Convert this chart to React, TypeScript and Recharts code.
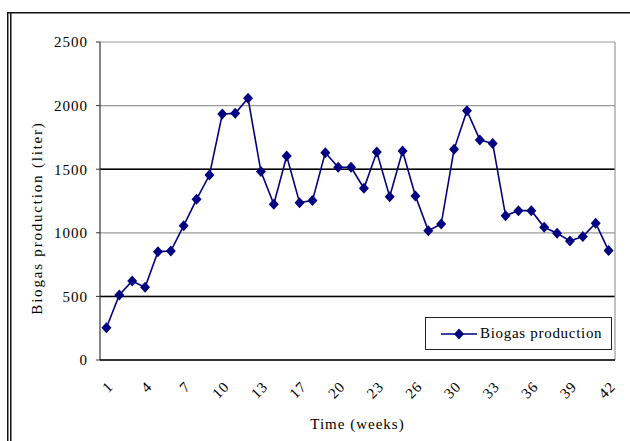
import {
  LineChart,
  Line,
  XAxis,
  YAxis,
  CartesianGrid,
  ReferenceLine,
  Legend,
  Label,
} from 'recharts';

// week number of each sample (two weeks missing in the source)
const weeks = [
  1, 2, 3, 4, 5, 6, 7, 8, 9, 10, 11, 12, 13, 14, 15,
  17, 18, 19, 20, 21, 22, 23, 24, 25, 26, 27, 28,
  30, 31, 32, 33, 34, 35, 36, 37, 38, 39, 40, 41, 42,
];

// biogas production (liter)
const production = [
  254, 511, 621, 571, 852, 857, 1056, 1263, 1454, 1934, 1939, 2057, 1481, 1224, 1604,
  1237, 1253, 1630, 1515, 1515, 1350, 1635, 1284, 1643, 1289, 1017, 1069,
  1656, 1960, 1730, 1703, 1135, 1174, 1174, 1043, 996, 936, 970, 1075, 860,
];

const yTicks = [0, 500, 1000, 1500, 2000, 2500];
const labelIdx = [1, 4, 7, 10, 13, 16, 19, 22, 25, 28, 31, 34, 37, 40];

const data = weeks.map((w, i) => ({ idx: i + 1, week: w, production: production[i] }));
const boundaries = Array.from({ length: weeks.length + 1 }, (_, i) => i + 0.5);

const serif = "'Liberation Serif'";
const navy = '#000080';

function Diamond(props: any) {
  const { cx, cy, index } = props;
  if (cx == null || cy == null) return null;
  return (
    <path
      key={`d-${index}`}
      d={`M${cx},${cy - 5.5}L${cx + 5},${cy}L${cx},${cy + 5.5}L${cx - 5},${cy}Z`}
      fill={navy}
    />
  );
}

function WeekTick(props: any) {
  const { x, y, payload } = props;
  const ax = x + 4;
  const ay = y + 18;
  return (
    <g>
      <text
        x={ax}
        y={ay}
        transform={`rotate(-45 ${ax} ${ay})`}
        textAnchor="end"
        dy="0.35em"
        style={{ fontFamily: serif }}
        fontSize={15}
        letterSpacing={0.8}
        fill="#000"
      >
        {weeks[payload.value - 1]}
      </text>
    </g>
  );
}

function YTitle(props: any) {
  const { x, y, height } = props.viewBox;
  const cx = x + 37;
  const cy = y + height / 2 + 17;
  return (
    <text
      x={cx}
      y={cy}
      transform={`rotate(-90 ${cx} ${cy})`}
      textAnchor="middle"
      dominantBaseline="central"
      style={{ fontFamily: serif }}
      fontSize={15}
      letterSpacing={1.8}
      fill="#000"
    >
      Biogas production (liter)
    </text>
  );
}

function LegendBox() {
  return (
    <div
      style={{
        width: 187,
        height: 33,
        border: '1.5px solid #222',
        boxSizing: 'border-box',
        display: 'flex',
        alignItems: 'center',
        background: '#fff',
      }}
    >
      <svg width={54} height={20} style={{ flex: 'none' }}>
        <line x1={15} y1={10} x2={51} y2={10} stroke={navy} strokeWidth={1.6} />
        <path d="M33,4.5L38,10L33,15.5L28,10Z" fill={navy} />
      </svg>
      <span style={{ fontFamily: serif, fontSize: 15, letterSpacing: 0.7, color: '#000' }}>
        Biogas production
      </span>
    </div>
  );
}

export default function App() {
  return (
    <div style={{ position: 'absolute', left: 0, top: 0, width: 630, height: 441, background: '#fff', fontFamily: serif }}>
      <svg width={630} height={441} style={{ position: 'absolute', left: 0, top: 0 }}>
        <line x1={7.5} y1={12.75} x2={630} y2={12.75} stroke="#111" strokeWidth={1.5} />
        <line x1={7.75} y1={12} x2={7.75} y2={441} stroke="#111" strokeWidth={1.5} />
        <line x1={10.75} y1={12} x2={10.75} y2={441} stroke="#111" strokeWidth={1.5} />
      </svg>
      <LineChart
        width={630}
        height={441}
        data={data}
        margin={{ top: 42, right: 15, left: 0, bottom: 0 }}
      >
        <CartesianGrid xAxisId={0} vertical={false} stroke="#999" strokeWidth={1.2} />
        <ReferenceLine xAxisId={0} y={500} stroke="#000" strokeWidth={1.5} />
        <ReferenceLine xAxisId={0} y={1500} stroke="#000" strokeWidth={1.5} />
        <ReferenceLine xAxisId={0} x={40.5} stroke="#999" strokeWidth={1.2} />
        <YAxis
          type="number"
          domain={[0, 2500]}
          ticks={yTicks}
          interval={0}
          width={100}
          tickSize={4}
          tickMargin={8}
          axisLine={{ stroke: '#333', strokeWidth: 1.2 }}
          tickLine={{ stroke: '#333' }}
          tick={{ fill: '#000', fontSize: 15, style: { fontFamily: serif }, letterSpacing: 1 }}
        >
          <Label content={YTitle} />
        </YAxis>
        <XAxis
          xAxisId={0}
          dataKey="idx"
          type="number"
          domain={[0.5, 40.5]}
          ticks={boundaries}
          interval={0}
          tick={false}
          tickSize={5}
          height={6}
          axisLine={{ stroke: '#000', strokeWidth: 1.5 }}
          tickLine={{ stroke: '#000' }}
        />
        <XAxis
          xAxisId={1}
          dataKey="idx"
          type="number"
          domain={[0.5, 40.5]}
          ticks={labelIdx}
          interval={0}
          tick={WeekTick}
          tickLine={false}
          axisLine={false}
          tickSize={0}
          tickMargin={0}
          height={75}
        >
          <Label
            value="Time (weeks)"
            position="insideBottom"
            offset={12}
            style={{ fontFamily: serif, fontSize: 15, letterSpacing: 1, fill: '#000' }}
          />
        </XAxis>
        <Legend
          layout="vertical"
          align="center"
          verticalAlign="middle"
          content={LegendBox}
          wrapperStyle={{ left: 425, top: 317, width: 187, height: 33 }}
        />
        <Line
          xAxisId={1}
          type="linear"
          dataKey="production"
          stroke={navy}
          strokeWidth={1.6}
          dot={Diamond}
          activeDot={false}
          isAnimationActive={false}
        />
      </LineChart>
    </div>
  );
}
